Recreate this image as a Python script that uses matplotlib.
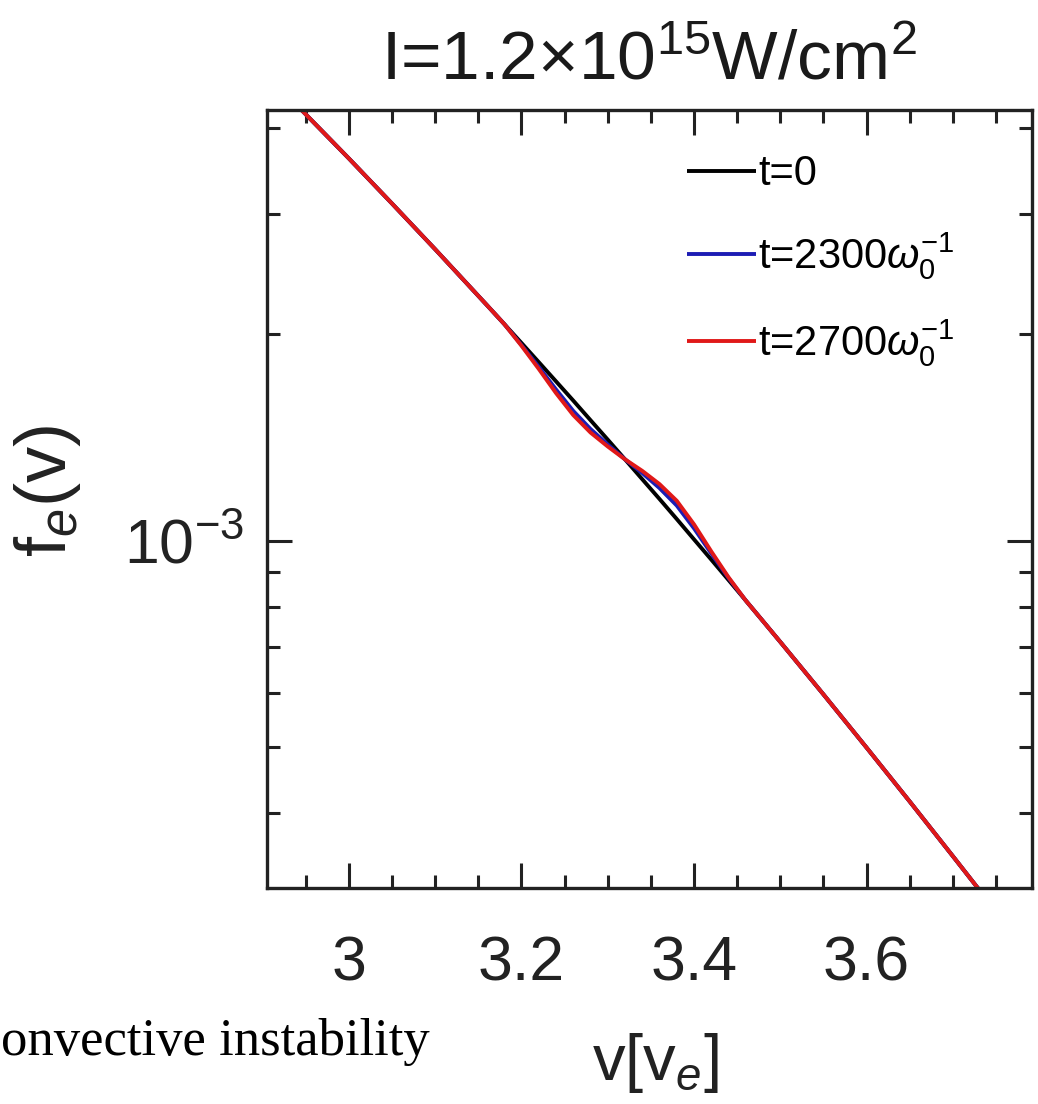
import numpy as np
import matplotlib.pyplot as plt
from matplotlib.ticker import MultipleLocator, LogLocator, NullFormatter, FixedLocator

plt.rcParams['font.family'] = ['Liberation Sans', 'DejaVu Sans']
plt.rcParams['mathtext.fontset'] = 'custom'
plt.rcParams['mathtext.rm'] = 'Liberation Sans'
plt.rcParams['mathtext.it'] = 'Liberation Sans:italic'
plt.rcParams['mathtext.bf'] = 'Liberation Sans:bold'

# velocity grid (in units of v_e)
v = [2.90, 2.95, 3.00, 3.05, 3.10, 3.16, 3.18, 3.20, 3.22, 3.24, 3.26, 3.28,
     3.30, 3.32, 3.34, 3.36, 3.38, 3.40, 3.42, 3.44, 3.46, 3.48, 3.50, 3.55,
     3.60, 3.65, 3.70, 3.75, 3.80]

# t = 0
f_t0 = [4.851e-3, 4.190e-3, 3.612e-3, 3.104e-3, 2.662e-3, 2.206e-3, 2.071e-3,
        1.943e-3, 1.822e-3, 1.708e-3, 1.601e-3, 1.499e-3, 1.404e-3, 1.314e-3,
        1.229e-3, 1.150e-3, 1.075e-3, 1.004e-3, 9.380e-4, 8.758e-4, 8.174e-4,
        7.626e-4, 7.113e-4, 5.963e-4, 4.986e-4, 4.160e-4, 3.462e-4, 2.877e-4,
        2.382e-4]

# t = 2300 / omega_0
f_t2300 = [4.851e-3, 4.190e-3, 3.612e-3, 3.104e-3, 2.662e-3, 2.206e-3, 2.071e-3,
           1.929e-3, 1.793e-3, 1.662e-3, 1.546e-3, 1.455e-3, 1.381e-3, 1.314e-3,
           1.255e-3, 1.193e-3, 1.125e-3, 1.042e-3, 9.576e-4, 8.818e-4, 8.174e-4,
           7.626e-4, 7.113e-4, 5.963e-4, 4.986e-4, 4.160e-4, 3.462e-4, 2.877e-4,
           2.382e-4]

# t = 2700 / omega_0
f_t2700 = [4.851e-3, 4.190e-3, 3.612e-3, 3.104e-3, 2.662e-3, 2.206e-3, 2.071e-3,
           1.925e-3, 1.781e-3, 1.642e-3, 1.525e-3, 1.438e-3, 1.372e-3, 1.314e-3,
           1.264e-3, 1.209e-3, 1.143e-3, 1.056e-3, 9.642e-4, 8.839e-4, 8.174e-4,
           7.626e-4, 7.113e-4, 5.963e-4, 4.986e-4, 4.160e-4, 3.462e-4, 2.877e-4,
           2.382e-4]

x_ticks = [3.0, 3.2, 3.4, 3.6]
x_tick_labels = ['3', '3.2', '3.4', '3.6']
series_labels = ['t=0', r't=2300$\omega_0^{-1}$', r't=2700$\omega_0^{-1}$']
series_colors = ['#000000', '#1c1cb4', '#e01818']

axis_color = '#222222'

fig = plt.figure(figsize=(10.38, 11.04), dpi=100)
ax = fig.add_axes([0.2569, 0.1959, 0.7370, 0.7045])

for f, lab, col in zip([f_t0, f_t2300, f_t2700], series_labels, series_colors):
    ax.plot(v, f, color=col, lw=2.8, label=lab, solid_capstyle='butt')

ax.set_yscale('log')
ax.set_xlim(2.9046, 3.7914)
ax.set_ylim(3.113e-4, 4.253e-3)

ax.xaxis.set_major_locator(FixedLocator(x_ticks))
ax.set_xticklabels(x_tick_labels)
ax.xaxis.set_minor_locator(MultipleLocator(0.05))
ax.yaxis.set_major_locator(LogLocator(base=10, numticks=10))
ax.yaxis.set_minor_locator(LogLocator(base=10, subs=np.arange(2, 10), numticks=20))
ax.yaxis.set_minor_formatter(NullFormatter())

for s in ax.spines.values():
    s.set_linewidth(2.4)
    s.set_color(axis_color)

ax.tick_params(which='both', direction='in', top=True, right=True,
               width=2.2, color=axis_color, labelcolor=axis_color, labelsize=45)
ax.tick_params(which='major', length=18)
ax.tick_params(which='minor', length=9.5)
ax.tick_params(axis='x', which='major', pad=34)
ax.tick_params(axis='y', which='major', pad=16)

ax.set_title(r'I=1.2$\times$10$^{15}$W/cm$^2$', fontsize=50, color='#1a1a1a', pad=22)
ax.set_xlabel(r'v[v$_e$]', fontsize=47, color=axis_color)
ax.xaxis.set_label_coords(0.5076, -0.184)
ax.set_ylabel(r'f$_e$(v)', fontsize=52, color=axis_color)
ax.yaxis.set_label_coords(-0.24, 0.511)

ax.legend(loc='upper left', bbox_to_anchor=(0.549, 0.943), frameon=False,
          fontsize=30, handlelength=1.67, handletextpad=0.05, labelspacing=0.85,
          borderpad=0, borderaxespad=0)

# fragment of the caption cut off at the left edge
fig.text(0.001, 0.0444, 'onvective instability', family=['Liberation Serif', 'DejaVu Serif'],
         fontsize=38, color='black', va='baseline', ha='left')

fig.savefig('out.png', dpi=100)
